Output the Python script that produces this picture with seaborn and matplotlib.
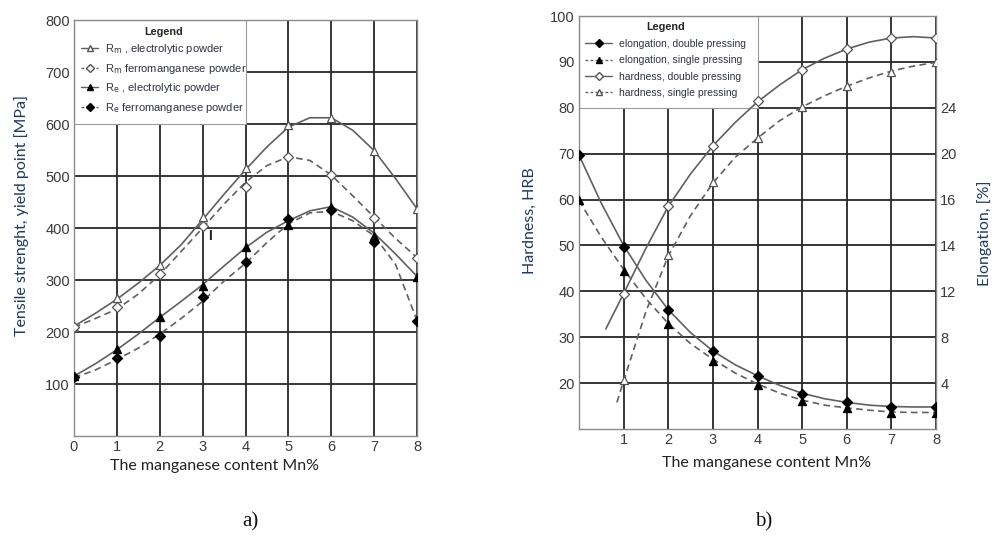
import matplotlib
matplotlib.use("Agg")
import matplotlib.pyplot as plt
import seaborn as sns
from matplotlib.lines import Line2D
from matplotlib.patches import Rectangle

# -------------------- data --------------------

MN = [0, 1, 2, 3, 4, 5, 6, 7, 8]
CURVE_X = [0, 0.5, 1, 1.5, 2, 2.5, 3, 3.5, 4, 4.5, 5, 5.5, 6, 6.5, 7, 7.5, 8]

# panel a) tensile strength / yield point [MPa], measured points
RM_ELECTRO = [210, 265, 328, 422, 516, 598, 611, 548, 436]
RM_FERRO = [210, 249, 312, 403, 478, 537, 501, 420, 343]
RE_ELECTRO = [115, 167, 228, 289, 363, 405, 441, 384, 306]
RE_FERRO = [113, 150, 192, 267, 334, 418, 434, 374, 221]

# panel a) fitted curves
RM_ELECTRO_FIT = [211, 236, 263, 294, 328, 368, 416, 465, 512, 556, 594, 612, 612, 588, 549, 495, 437]
RM_FERRO_FIT = [209, 226, 244, 273, 310, 355, 400, 446, 488, 520, 537, 530, 502, 462, 421, 380, 343]
RE_ELECTRO_FIT = [115, 139, 166, 196, 228, 259, 291, 327, 362, 392, 414, 433, 441, 421, 390, 350, 307]
RE_FERRO_FIT = [112, 127, 147, 169, 196, 226, 259, 298, 332, 372, 408, 429, 432, 414, 385, 330, 222]

# panel b) points, all in hardness-axis units (right axis labels are printed as-is)
ELONG_DOUBLE = [69.7, 49.7, 36.0, 27.0, 21.6, 17.7, 15.8, 14.9, 14.8]
ELONG_SINGLE = [59.8, 44.5, 32.8, 24.8, 19.6, 16.2, 14.6, 13.5, 13.5]
HARD_DOUBLE = [39.5, 58.6, 71.7, 81.4, 88.3, 92.8, 95.3, 95.3]
HARD_SINGLE = [20.6, 47.9, 63.8, 73.5, 80.2, 84.7, 87.9, 90.0]
HARD_MN = [1, 2, 3, 4, 5, 6, 7, 8]

ELONG_DOUBLE_FIT = [69.7, 59.2, 50.0, 42.4, 36.0, 31.0, 27.0, 24.0, 21.6, 19.5, 17.8, 16.6, 15.8, 15.2, 14.9, 14.8, 14.8]
ELONG_SINGLE_FIT = [59.8, 51.8, 44.8, 38.4, 33.0, 28.6, 25.2, 22.2, 19.8, 17.8, 16.3, 15.2, 14.6, 14.1, 13.7, 13.6, 13.6]
HARD_DOUBLE_FIT_X = [0.6, 1, 1.5, 2, 2.5, 3, 3.5, 4, 4.5, 5, 5.5, 6, 6.5, 7, 7.5, 8]
HARD_DOUBLE_FIT = [31.8, 39.5, 49.4, 58.5, 65.6, 71.7, 76.8, 81.3, 85.0, 88.3, 90.8, 92.8, 94.3, 95.2, 95.5, 95.2]
HARD_SINGLE_FIT_X = [0.85, 1, 1.5, 2, 2.5, 3, 3.5, 4, 4.5, 5, 5.5, 6, 6.5, 7, 7.5, 8]
HARD_SINGLE_FIT = [15.8, 20.5, 35.6, 47.7, 56.5, 63.6, 69.2, 73.4, 77.2, 80.2, 82.6, 84.7, 86.5, 88.0, 89.1, 89.9]

ELONG_TICKS = [20, 30, 40, 50, 60, 70, 80]
ELONG_LABELS = ["4", "8", "12", "14", "16", "20", "24"]

# -------------------- style --------------------

LINE = "#606060"
GRID = "#262626"
LABEL = "#1f3a5f"
TICK = "#3a3a3a"
DASH = (0, (4, 2.6))

sns.set_theme(style="white")
plt.rcParams["font.family"] = ["Liberation Sans", "DejaVu Sans"]


def draw(ax, fx, fy, px, py, dashed, marker, filled):
    sns.lineplot(x=fx, y=fy, ax=ax, color=LINE, lw=1.2, sort=False,
                 linestyle=DASH if dashed else "-", zorder=3)
    sns.scatterplot(x=px, y=py, ax=ax, marker=marker,
                    s=34 if marker == "^" else 26,
                    color="black" if filled else "white",
                    edgecolor="black" if filled else "#555555",
                    linewidth=0.9, zorder=4)


def handle(dashed, marker, filled):
    return Line2D([], [], color=LINE, lw=1.0, linestyle=(0, (2, 1.6)) if dashed else "-",
                  marker=marker, markersize=5 if marker == "^" else 4.5,
                  markerfacecolor="black" if filled else "white",
                  markeredgecolor="black" if filled else "#555555")


def frame(ax, ylim, yticks):
    ax.set_xlim(0, 8)
    ax.set_ylim(*ylim)
    ax.set_yticks(yticks)
    ax.set_xticks(MN)
    ax.set_axisbelow(True)
    ax.grid(True, color=GRID, lw=1.3)
    ax.tick_params(length=0, pad=3, labelsize=10.5, labelcolor=TICK)
    for s in ax.spines.values():
        s.set_color("#8a8a8a")
        s.set_linewidth(1.0)
    ax.set_xlabel("")
    ax.set_ylabel("")


def legend_box(ax, bottom, handles, labels, handlelen, spacing, size):
    ax.add_patch(Rectangle((0, bottom), 0.5, 1 - bottom, transform=ax.transAxes,
                           facecolor="white", edgecolor="#9a9a9a", lw=0.8, zorder=2))
    leg = ax.legend(handles, labels, loc="upper left", bbox_to_anchor=(0.0, 1.0),
                    frameon=False, title="Legend", fontsize=size, handlelength=handlelen,
                    labelspacing=spacing, handletextpad=0.6, borderaxespad=0.3,
                    borderpad=0.3)
    leg.get_title().set_fontweight("bold")
    leg.get_title().set_fontsize(7.8)
    for t in leg.get_texts():
        t.set_color("#2f3440")
    leg.set_zorder(6)


fig = plt.figure(figsize=(9.92, 5.54), dpi=100)

# -------------------- a) --------------------
ax1 = fig.add_axes([74 / 992, 1 - 436 / 554, 343 / 992, 416 / 554])
draw(ax1, CURVE_X, RM_ELECTRO_FIT, MN, RM_ELECTRO, False, "^", False)
draw(ax1, CURVE_X, RM_FERRO_FIT, MN, RM_FERRO, True, "D", False)
draw(ax1, CURVE_X, RE_ELECTRO_FIT, MN, RE_ELECTRO, False, "^", True)
draw(ax1, CURVE_X, RE_FERRO_FIT, MN, RE_FERRO, True, "D", True)
frame(ax1, (0, 800), [100, 200, 300, 400, 500, 600, 700, 800])
ax1.text(3.17, 385, "I", fontsize=10, fontweight="bold", color="#222222", ha="center", va="center")
legend_box(
    ax1, 0.75,
    [handle(False, "^", False), handle(True, "D", False), handle(False, "^", True), handle(True, "D", True)],
    [r"R$_\mathrm{m}$ , electrolytic powder", r"R$_\mathrm{m}$ ferromanganese powder",
     r"R$_\mathrm{e}$ , electrolytic powder", r"R$_\mathrm{e}$ ferromanganese powder"],
    1.6, 0.5, 8.0,
)

# -------------------- b) --------------------
ax2 = fig.add_axes([579 / 992, 1 - 429 / 554, 357 / 992, 413 / 554])
draw(ax2, CURVE_X, ELONG_DOUBLE_FIT, MN, ELONG_DOUBLE, False, "D", True)
draw(ax2, CURVE_X, ELONG_SINGLE_FIT, MN, ELONG_SINGLE, True, "^", True)
draw(ax2, HARD_DOUBLE_FIT_X, HARD_DOUBLE_FIT, HARD_MN, HARD_DOUBLE, False, "D", False)
draw(ax2, HARD_SINGLE_FIT_X, HARD_SINGLE_FIT, HARD_MN, HARD_SINGLE, True, "^", False)
frame(ax2, (10, 100), [20, 30, 40, 50, 60, 70, 80, 90, 100])
ax2.set_xticks(MN, [""] + [str(m) for m in MN[1:]])
legend_box(
    ax2, 0.778,
    [handle(False, "D", True), handle(True, "^", True), handle(False, "D", False), handle(True, "^", False)],
    ["elongation, double pressing", "elongation, single pressing",
     "hardness, double pressing", "hardness, single pressing"],
    2.6, 0.62, 7.5,
)

ax3 = ax2.twinx()
ax3.set_ylim(10, 100)
ax3.set_yticks(ELONG_TICKS, ELONG_LABELS)
ax3.tick_params(length=0, pad=3, labelsize=10.5, labelcolor=TICK)
ax3.grid(False)
for s in ax3.spines.values():
    s.set_visible(False)

# -------------------- labels --------------------
lab = dict(family=["Lato", "DejaVu Sans"], fontsize=11.5)
fig.text(22 / 992, 1 - 216 / 554, "Tensile strenght, yield point [MPa]", rotation=90,
         ha="center", va="center", color=LABEL, **lab)
fig.text(530 / 992, 1 - 221 / 554, "Hardness, HRB", rotation=90,
         ha="center", va="center", color=LABEL, **lab)
fig.text(985 / 992, 1 - 233 / 554, "Elongation, [%]", rotation=90,
         ha="center", va="center", color=LABEL, **lab)
fig.text(215 / 992, 1 - 466 / 554, "The manganese content Mn%", ha="center", va="center",
         color="#222222", **lab)
fig.text(766 / 992, 1 - 463 / 554, "The manganese content Mn%", ha="center", va="center",
         color="#222222", **lab)
fig.text(250 / 992, 1 - 522 / 554, "a)", ha="center", va="center",
         family="Liberation Serif", fontsize=15, color="#111111")
fig.text(764 / 992, 1 - 522 / 554, "b)", ha="center", va="center",
         family="Liberation Serif", fontsize=15, color="#111111")

fig.savefig("out.png", dpi=100)
